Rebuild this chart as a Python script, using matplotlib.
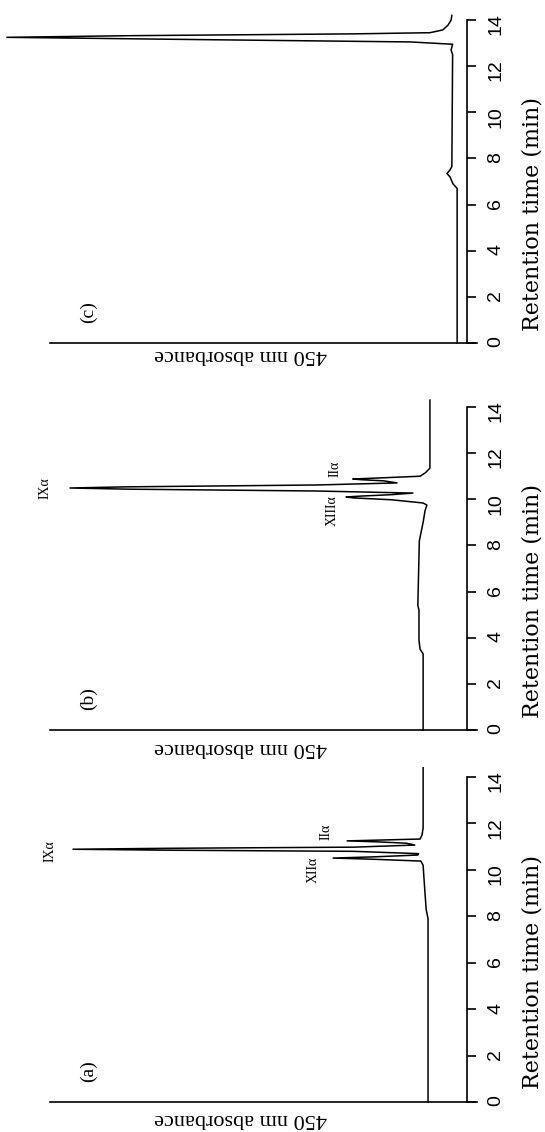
import matplotlib
matplotlib.use("Agg")
import matplotlib.pyplot as plt

# retention time (min) / 450 nm absorbance (arbitrary units)
time_a = [0, 7.9, 8.3, 9.0, 9.7, 10.2, 10.38, 10.46, 10.51, 10.56, 10.64, 10.70,
          10.80, 10.85, 10.89, 10.93, 10.98, 11.07, 11.15, 11.21, 11.25, 11.29,
          11.33, 11.5, 11.8, 14.4]
abs_a = [10.3, 10.3, 10.8, 11.1, 11.4, 11.6, 12.2, 25, 35.4, 25, 13.0, 12.8,
         30, 80, 104.2, 80, 30, 13.8, 16, 24, 31.7, 22,
         12.4, 11.9, 11.6, 11.6]

time_b = [0, 3.3, 3.5, 3.9, 5.2, 5.4, 8.2, 9.0, 9.5, 9.75, 9.84, 9.98, 10.06,
          10.10, 10.14, 10.20, 10.27, 10.36, 10.44, 10.49, 10.54, 10.62, 10.71,
          10.80, 10.85, 10.88, 10.92, 11.0, 11.15, 11.35, 14.3]
abs_b = [11.6, 11.6, 12.4, 12.7, 12.7, 13.0, 12.6, 11.6, 11.1, 10.6, 11.6, 20, 30,
         32, 28, 20, 14.3, 40, 90, 105, 90, 40, 18.5,
         22, 28, 30.2, 24, 12.4, 11.0, 9.8, 9.8]

time_c = [0, 6.7, 6.9, 7.2, 7.35, 7.5, 7.65, 12.5, 12.7, 12.95, 13.05, 13.15,
          13.25, 13.32, 13.40, 13.45, 13.57, 13.78, 14.0, 14.2]
abs_c = [2.6, 2.6, 3.7, 4.5, 5.3, 4.5, 4.0, 3.8, 4.2, 3.8, 15, 70,
         121.7, 90, 30, 9.8, 6.4, 5.0, 4.2, 4.0]

panel_names = ["(a)", "(b)", "(c)"]
# peak labels: (text, absorbance, time)
peaks_a = [("IX\u03b1", 110.3, 10.81), ("XII\u03b1", 40.7, 10.0), ("II\u03b1", 37.3, 11.63)]
peaks_b = [("IX\u03b1", 111.5, 10.49), ("XIII\u03b1", 35.7, 9.53), ("II\u03b1", 34.9, 11.31)]
peaks_c = []

ticks = [0, 2, 4, 6, 8, 10, 12, 14]

W, H = 545, 1132
fig = plt.figure(figsize=(W / 100, H / 100), dpi=100)

# pixel rows of t=0 and px per minute for each panel (page is turned sideways)
zero_rows = [1102, 730, 343]
px_min = [23.21, 23.07, 23.07]
traces = [(time_a, abs_a), (time_b, abs_b), (time_c, abs_c)]
peak_sets = [peaks_a, peaks_b, peaks_c]
label_off = [-0.69, -0.78, -0.52]

serif = "Liberation Serif"

for i in range(3):
    t, a = traces[i]
    ymax = 14.5
    bottom = (H - zero_rows[i]) / H
    height = ymax * px_min[i] / H
    ax = fig.add_axes([0, bottom, 477 / W, height])
    ax.plot(a, t, color="black", lw=1.1, clip_on=False)
    ax.set_xlim(123.5, -2.65)
    ax.set_ylim(0, ymax)

    ax.spines["top"].set_visible(False)
    ax.spines["left"].set_visible(False)
    ax.spines["right"].set_position(("data", 0))
    ax.spines["right"].set_bounds(0, 14)
    ax.spines["bottom"].set_bounds(-2.65, 110.3)
    for s in ("right", "bottom"):
        ax.spines[s].set_linewidth(1.2)

    ax.set_xticks([])
    ax.yaxis.tick_right()
    ax.set_yticks(ticks)
    ax.set_yticklabels([str(v) for v in ticks], rotation=90,
                       fontfamily="Liberation Sans", fontsize=14)
    ax.tick_params(axis="y", direction="out", length=6.5, width=1.2, pad=8)

    ax.text(60, label_off[i], "450 nm absorbance", rotation=180, ha="center",
            va="center", fontfamily=serif, fontsize=16, clip_on=False)
    ax.text(-17.2, 5.6, "Retention time (min)", rotation=90, ha="center",
            va="center", fontfamily="DejaVu Serif", fontsize=16, clip_on=False)
    ax.text(100, 1.35, panel_names[i], rotation=90, ha="center", va="center",
            fontfamily=serif, fontsize=14)
    for name, ax_x, ax_t in peak_sets[i]:
        ax.text(ax_x, ax_t, name, rotation=90, ha="center", va="center",
                fontfamily=serif, fontsize=10, clip_on=False)

fig.savefig("out.png", dpi=100)
